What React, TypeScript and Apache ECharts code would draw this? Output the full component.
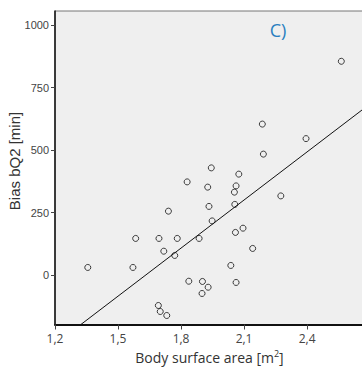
import React, { useEffect, useRef } from "react";
import * as echarts from "echarts";

const bodySurfaceArea = [
  2.187, 2.395, 2.192, 1.944, 2.075, 1.829, 1.927, 2.062, 2.054, 2.275,
  1.933, 2.056, 1.740, 1.948, 2.095, 2.059, 1.584, 1.695, 1.782, 1.886,
  1.718, 1.770, 2.141, 1.356, 1.571, 2.037, 1.837, 1.902, 1.929, 1.900,
  2.062, 1.692, 1.701, 1.732, 2.563,
];
const biasBQ2 = [
  604, 546, 484, 429, 404, 373, 352, 357, 332, 317,
  275, 283, 256, 217, 188, 171, 147, 147, 147, 147,
  96, 79, 107, 31, 31, 39, -24, -25, -48, -73,
  -29, -121, -145, -161, 855,
];
const regressionX = [1.2, 2.7];
const regressionY = [-276, 685];
const yTicks = [0, 250, 500, 750, 1000];
const xTicks = [1.2, 1.5, 1.8, 2.1, 2.4];
const panelLabel = "C)";
const yTitle = "Bias bQ2 [min]";

export default function App() {
  const ref = useRef<HTMLDivElement>(null);
  useEffect(() => {
    if (!ref.current) return;
    const chart = echarts.init(ref.current, null, { renderer: "svg" });
    const points = bodySurfaceArea.map((x, i) => [x, biasBQ2[i]]);
    const line = regressionX.map((x, i) => [x, regressionY[i]]);
    chart.setOption({
      animation: false,
      backgroundColor: "#ffffff",
      grid: {
        left: 55,
        top: 11,
        right: -2,
        bottom: 42.5,
        show: true,
        containLabel: false,
        outerBoundsMode: "none",
        backgroundColor: "#efefef",
        borderColor: "#777777",
        borderWidth: 1,
      },
      xAxis: {
        type: "value",
        min: 1.2,
        max: 2.671,
        splitLine: { show: false },
        axisLine: { show: true, onZero: false, lineStyle: { color: "#111", width: 2 } },
        axisTick: { show: true, length: 5, lineStyle: { color: "#444" }, customValues: xTicks },
        axisLabel: {
          customValues: xTicks,
          formatter: (v: number) => v.toFixed(1).replace(".", ","),
          color: "#444",
          fontSize: 12,
          fontFamily: "Open Sans",
          margin: 8,
        },
        name: "{a|Body surface area [m}{s|2}{a|]}",
        nameLocation: "middle",
        nameGap: 24,
        nameTextStyle: {
          rich: {
            a: { fontSize: 14, fontFamily: "Open Sans", color: "#333" },
            s: { fontSize: 9, fontFamily: "Open Sans", color: "#333", verticalAlign: "top", padding: [0, 0, 8, 0] },
          },
        },
      },
      yAxis: {
        type: "value",
        min: -197,
        max: 1056,
        splitLine: { show: false },
        axisLine: { show: true, onZero: false, lineStyle: { color: "#111", width: 1.5 } },
        axisTick: { show: true, length: 4, lineStyle: { color: "#444" }, customValues: yTicks },
        axisLabel: {
          customValues: yTicks,
          formatter: (v: number) => String(v),
          color: "#444",
          fontSize: 11,
          fontFamily: "Liberation Sans",
          margin: 6,
        },
      },
      graphic: [
        {
          type: "text",
          x: 278,
          y: 30,
          style: {
            text: panelLabel,
            fill: "#2a7fc0",
            fontSize: 18,
            fontFamily: "Open Sans",
            align: "center",
            verticalAlign: "middle",
          },
        },
        {
          type: "text",
          x: 14,
          y: 161,
          rotation: Math.PI / 2,
          style: {
            text: yTitle,
            fill: "#333",
            fontSize: 15,
            fontFamily: "Liberation Sans",
            align: "center",
            verticalAlign: "middle",
          },
        },
      ],
      series: [
        {
          type: "line",
          data: line,
          symbol: "none",
          clip: true,
          lineStyle: { color: "#111", width: 1 },
          silent: true,
        },
        {
          type: "scatter",
          data: points,
          symbol: "circle",
          symbolSize: 6,
          itemStyle: { color: "transparent", borderColor: "#111", borderWidth: 1 },
        },
      ],
    });
    return () => chart.dispose();
  }, []);
  return (
    <div
      ref={ref}
      style={{ position: "fixed", left: 0, top: 0, width: 362, height: 367 }}
    />
  );
}
